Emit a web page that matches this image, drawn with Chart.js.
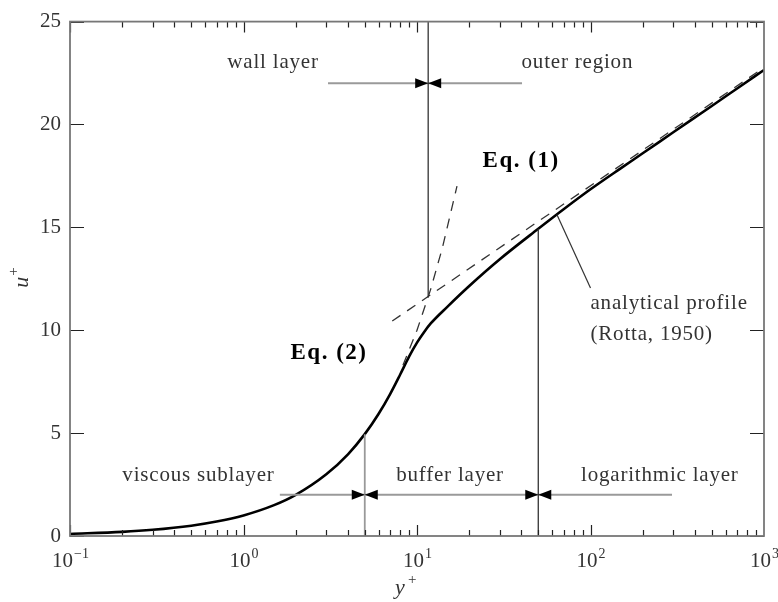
<!DOCTYPE html>
<html lang="en">
<head>
    <meta charset="UTF-8">
    <title>Velocity profile u+ vs y+</title>
    <script src="https://cdn.jsdelivr.net/npm/chart.js"></script>
    <style>
        html, body {
            margin: 0;
            padding: 0;
            background: #fff;
        }
        #wrap {
            width: 778px;
            height: 602px;
        }
    </style>
</head>
<body>
    <div id="wrap">
        <canvas id="profileChart" width="778" height="602"></canvas>
    </div>

    <script>
        // analytical profile (Rotta, 1950)
        var yPlus = [0.1, 0.2, 0.3, 0.5, 0.7, 1, 1.5, 2, 3, 4, 5, 6, 7, 8, 9, 10, 11, 12, 15, 20, 30, 50, 70, 100, 150, 200, 300, 500, 700, 1000];
        var uPlus = [0.1, 0.2, 0.3, 0.5, 0.7, 1.0, 1.5, 2.0, 3.0, 3.97, 4.95, 5.93, 6.9, 7.85, 8.72, 9.4, 9.92, 10.33, 11.15, 12.15, 13.45, 14.93, 15.88, 16.85, 17.88, 18.6, 19.62, 20.9, 21.75, 22.65];

        // Eq. (1): log law, straight on the log axis
        var logLawY = [7.2, 1000];
        var logLawU = [10.45, 22.77];

        // Eq. (2): u+ = y+
        var linearY = [8.3, 10, 12, 14, 17];
        var linearU = [8.3, 10, 12, 14, 17];

        // region boundaries
        var wallOuterY = 11.6;
        var viscBufferY = 5;
        var bufferLogY = 50;

        var xTickPowers = [-1, 0, 1, 2, 3];
        var yTickValues = [0, 5, 10, 15, 20, 25];

        var serif = "'Liberation Serif', 'DejaVu Serif', serif";
        var textColor = '#333';

        function pts(xs, ys) {
            var out = [];
            for (var i = 0; i < xs.length; i++) out.push({x: xs[i], y: ys[i]});
            return out;
        }

        function seg(x1, y1, x2, y2, color, width, dash) {
            return {
                data: [{x: x1, y: y1}, {x: x2, y: y2}],
                borderColor: color,
                borderWidth: width,
                borderDash: dash || [],
                showLine: true,
                pointRadius: 0,
                tension: 0
            };
        }

        // labels drawn at data positions
        var notes = [
            {text: 'wall layer', x: 1.48, y: 23.0, align: 'center', bold: false},
            {text: 'outer region', x: 84, y: 23.0, align: 'center', bold: false},
            {text: 'Eq. (1)', x: 39.8, y: 18.2, align: 'center', bold: true},
            {text: 'Eq. (2)', x: 3.11, y: 8.87, align: 'center', bold: true},
            {text: 'analytical profile', x: 100, y: 11.32, align: 'left', bold: false},
            {text: '(Rotta, 1950)', x: 100, y: 9.8, align: 'left', bold: false},
            {text: 'viscous sublayer', x: 0.55, y: 2.93, align: 'center', bold: false},
            {text: 'buffer layer', x: 15.5, y: 2.93, align: 'center', bold: false},
            {text: 'logarithmic layer', x: 251, y: 2.93, align: 'center', bold: false}
        ];

        // arrow pairs meeting at a boundary
        var bowties = [
            {x: wallOuterY, y: 22},
            {x: viscBufferY, y: 2},
            {x: bufferLogY, y: 2}
        ];

        var annotationPlugin = {
            id: 'annotations',
            afterDatasetsDraw: function(chart) {
                var ctx = chart.ctx;
                var xs = chart.scales.x, ys = chart.scales.y;
                ctx.save();
                ctx.fillStyle = '#000';
                bowties.forEach(function(b) {
                    var px = xs.getPixelForValue(b.x), py = ys.getPixelForValue(b.y);
                    ctx.beginPath();
                    ctx.moveTo(px, py);
                    ctx.lineTo(px - 13, py - 5);
                    ctx.lineTo(px - 13, py + 5);
                    ctx.closePath();
                    ctx.moveTo(px, py);
                    ctx.lineTo(px + 13, py - 5);
                    ctx.lineTo(px + 13, py + 5);
                    ctx.closePath();
                    ctx.fill();
                });
                ctx.textBaseline = 'middle';
                notes.forEach(function(n) {
                    ctx.font = (n.bold ? 'bold 23px ' : '21px ') + serif;
                    ctx.letterSpacing = n.bold ? '1.5px' : '0.8px';
                    ctx.fillStyle = n.bold ? '#000' : textColor;
                    ctx.textAlign = n.align;
                    ctx.fillText(n.text, xs.getPixelForValue(n.x), ys.getPixelForValue(n.y));
                });
                ctx.letterSpacing = '0px';
                ctx.restore();
            }
        };

        var framePlugin = {
            id: 'frame',
            afterDraw: function(chart) {
                var ctx = chart.ctx, a = chart.chartArea;
                var xs = chart.scales.x, ys = chart.scales.y;
                ctx.save();
                // inward ticks, log minors on top and bottom
                ctx.strokeStyle = '#222';
                ctx.lineWidth = 1.2;
                ctx.beginPath();
                for (var d = -1; d < 3; d++) {
                    for (var k = 1; k < 10; k++) {
                        var px = Math.round(xs.getPixelForValue(k * Math.pow(10, d))) + 0.5;
                        var len = k === 1 ? 11 : 6;
                        ctx.moveTo(px, a.bottom); ctx.lineTo(px, a.bottom - len);
                        ctx.moveTo(px, a.top); ctx.lineTo(px, a.top + len);
                    }
                }
                yTickValues.forEach(function(v) {
                    var py = Math.round(ys.getPixelForValue(v)) + 0.5;
                    ctx.moveTo(a.left, py); ctx.lineTo(a.left + 14, py);
                    ctx.moveTo(a.right, py); ctx.lineTo(a.right - 14, py);
                });
                ctx.stroke();

                ctx.strokeStyle = '#777';
                ctx.lineWidth = 1.8;
                ctx.strokeRect(a.left, a.top, a.right - a.left, a.bottom - a.top);

                // decade labels with raised exponents
                ctx.fillStyle = textColor;
                ctx.textBaseline = 'alphabetic';
                xTickPowers.forEach(function(p) {
                    var px = xs.getPixelForValue(Math.pow(10, p));
                    var exp = p < 0 ? '\u2212' + (-p) : String(p);
                    ctx.font = '21px ' + serif;
                    var w1 = ctx.measureText('10').width;
                    ctx.font = '14px ' + serif;
                    var w2 = ctx.measureText(exp).width;
                    var x0 = px - (w1 + w2) / 2;
                    ctx.textAlign = 'left';
                    ctx.font = '21px ' + serif;
                    ctx.fillText('10', x0, a.bottom + 31);
                    ctx.font = '14px ' + serif;
                    ctx.fillText(exp, x0 + w1 + 1, a.bottom + 22);
                });

                // axis titles
                ctx.font = 'italic 22px ' + serif;
                ctx.textAlign = 'left';
                ctx.fillText('y', 395, a.bottom + 58);
                ctx.font = '15px ' + serif;
                ctx.fillText('+', 408, a.bottom + 48);

                ctx.translate(28, (a.top + a.bottom) / 2);
                ctx.rotate(-Math.PI / 2);
                ctx.font = 'italic 22px ' + serif;
                ctx.fillText('u', -9, 0);
                ctx.font = '15px ' + serif;
                ctx.fillText('+', 3, -10);
                ctx.restore();
            }
        };

        var datasets = [
            seg(wallOuterY, 11.63, wallOuterY, 25, '#333', 1.3),
            seg(viscBufferY, 0, viscBufferY, 4.95, '#999', 1.8),
            seg(bufferLogY, 0, bufferLogY, 14.93, '#333', 1.3),
            seg(3.07, 22, 40.3, 22, '#9a9a9a', 2),
            seg(1.62, 2, 295, 2, '#9a9a9a', 2),
            seg(64, 15.62, 100, 12.05, '#333', 1.2),
            {
                data: pts(logLawY, logLawU),
                borderColor: '#333',
                borderWidth: 1.3,
                borderDash: [10, 8],
                showLine: true,
                pointRadius: 0
            },
            {
                data: pts(linearY, linearU),
                borderColor: '#333',
                borderWidth: 1.3,
                borderDash: [10, 8],
                showLine: true,
                pointRadius: 0
            },
            {
                data: pts(yPlus, uPlus),
                borderColor: '#000',
                borderWidth: 2.6,
                showLine: true,
                pointRadius: 0,
                cubicInterpolationMode: 'monotone'
            }
        ];

        var ctx = document.getElementById('profileChart').getContext('2d');
        var chart = new Chart(ctx, {
            type: 'scatter',
            data: {datasets: datasets},
            options: {
                responsive: false,
                animation: false,
                layout: {padding: {top: 18, right: 14, left: 0, bottom: 0}},
                plugins: {
                    legend: {display: false},
                    tooltip: {enabled: false}
                },
                scales: {
                    x: {
                        type: 'logarithmic',
                        min: 0.1,
                        max: 1000,
                        grid: {display: false},
                        border: {display: false},
                        ticks: {display: false},
                        afterFit: function(s) { s.height = 66; }
                    },
                    y: {
                        min: 0,
                        max: 25,
                        grid: {display: false, drawTicks: false},
                        border: {display: false},
                        afterBuildTicks: function(s) {
                            s.ticks = yTickValues.map(function(v) { return {value: v}; });
                        },
                        ticks: {
                            padding: 9,
                            color: textColor,
                            font: {family: serif, size: 21}
                        },
                        afterFit: function(s) { s.width = 70; }
                    }
                }
            },
            plugins: [annotationPlugin, framePlugin]
        });
    </script>
</body>
</html>
